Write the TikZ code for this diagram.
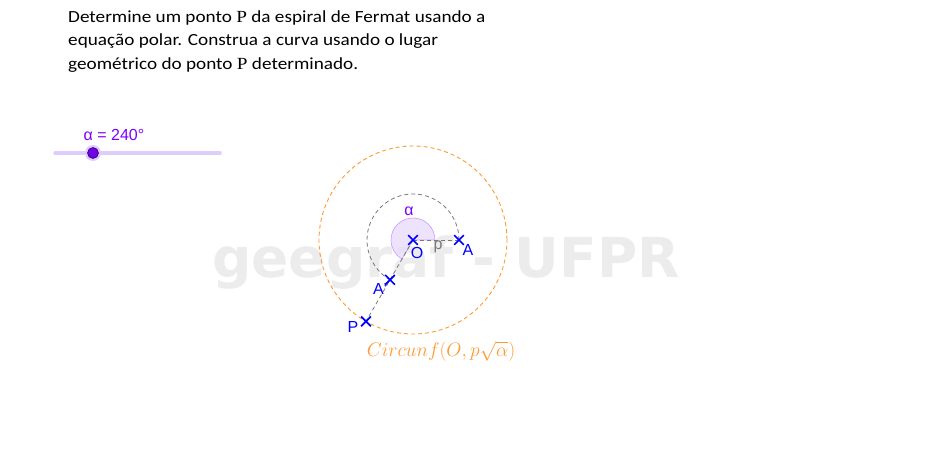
\documentclass[tikz,border=0pt]{standalone}
\usepackage{amsmath}
\usepackage{graphicx}
\usepackage{fontspec}
\setmainfont{Carlito}
\newfontfamily\ggbfont{Liberation Sans}
\newfontfamily\markfont{DejaVu Sans}
\newfontfamily\serifP{Liberation Serif}
\usetikzlibrary{shapes.misc}

\definecolor{ggbblue}{RGB}{0,0,255}
\definecolor{ggborange}{RGB}{255,153,51}
\definecolor{ggbgray}{RGB}{120,120,120}
\definecolor{ggbpurple}{RGB}{124,0,255}
\definecolor{anglefill}{RGB}{232,220,252}
\definecolor{sliderline}{RGB}{222,204,255}
\definecolor{watermark}{RGB}{236,236,236}

\tikzset{
  pto/.style={cross out,draw=ggbblue,line width=1.7pt,minimum size=8pt,inner sep=0pt},
  ptlabel/.style={text=ggbblue,font=\ggbfont\fontsize{16}{16}\selectfont,inner sep=0pt},
  aux/.style={color=ggbgray,dashed,dash pattern=on 4pt off 3pt,line width=0.8pt}
}

\begin{document}
\begin{tikzpicture}[x=1pt,y=1pt]
\useasboundingbox (0,0) rectangle (950,448);

% The statement of the exercise
\node[anchor=north west,align=left,inner sep=0pt,font=\fontsize{17}{23.5}\selectfont] (enunciado) at (68,438)
  {\scalebox{1.13}[1]{Determine um ponto {\serifP P} da espiral de Fermat usando a}\\
   \scalebox{1.13}[1]{equação polar. Construa a curva usando o lugar}\\
   \scalebox{1.13}[1]{geométrico do ponto {\serifP P} determinado.}};

% The slider for alpha
\draw[color=sliderline,line width=3.5pt,line cap=round] (55,295) -- (220,295);
\fill[color=sliderline] (93,295) circle (8);
\filldraw[fill=ggbpurple!90!black,draw=ggbpurple!45!black,line width=0.6pt] (93,295) circle (5.5);
\node[text=ggbpurple,font=\ggbfont\fontsize{16}{16}\selectfont] (slider) at (114,313) {α = 240°};

% Watermark behind the construction
\node[text=watermark,font=\markfont\bfseries\fontsize{55}{55}\selectfont] (marca) at (446,185) {geegraf - UFPR};

% The points
\coordinate (O) at (413,208);
\coordinate (A) at (459,208);
\coordinate (A') at (390,168.2);
\coordinate (P) at (366,126.6);

% The angle alpha from A to A'
\filldraw[fill=anglefill,fill opacity=0.8,draw=ggbpurple!40,line width=0.6pt] (O) -- ++(0:22) arc (0:240:22) -- cycle;
\node[text=ggbpurple,font=\ggbfont\fontsize{16}{16}\selectfont] (alfa) at (409,237) {α};

% The circle of radius p (dashed arc) and the circle of radius p sqrt(alpha)
\draw[aux] (A) arc (0:240:46);
\draw[color=ggborange,dashed,dash pattern=on 4pt off 3pt,line width=0.9pt] (O) circle (94);
\node[text=ggborange,font=\fontsize{17}{17}\selectfont] (circ) at (441,97) {\scalebox{1.13}{\(Circunf(O,p\sqrt{\alpha})\)}};

% The segments OA and OP
\draw[aux] (O) -- (A);
\draw[aux] (O) -- (P);
\node[text=ggbgray,font=\ggbfont\fontsize{16}{16}\selectfont,inner sep=0pt] (p) at (438,201) {p};

% The crosses and their labels
\node[pto] (Opt) at (O) {};
\node[pto] (Apt) at (A) {};
\node[pto] (A'pt) at (A') {};
\node[pto] (Ppt) at (P) {};
\node[ptlabel] (Olab) at (417,195) {O};
\node[ptlabel] (Alab) at (468,198) {A};
\node[ptlabel] (A'lab) at (380,159) {A'};
\node[ptlabel] (Plab) at (353,121) {P};

\end{tikzpicture}
\end{document}
